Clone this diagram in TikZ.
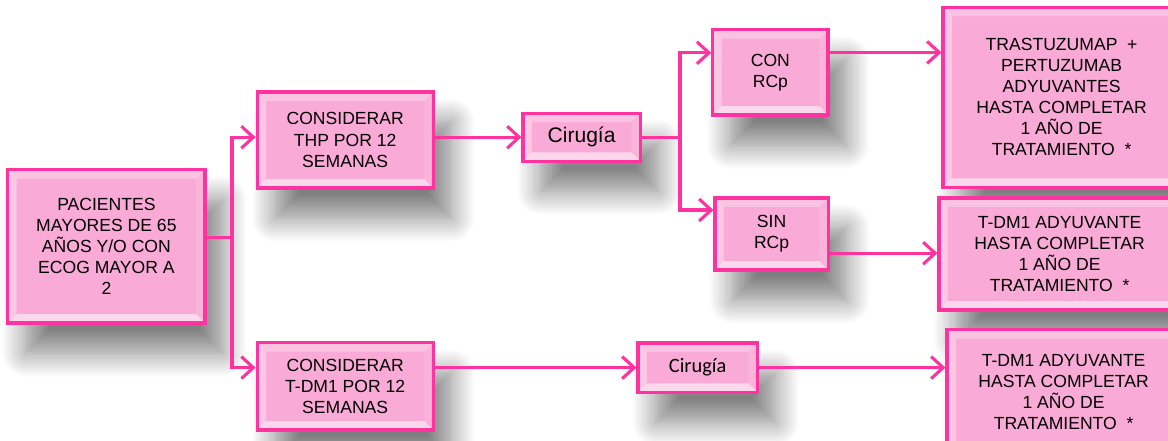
\documentclass[tikz,border=0pt]{standalone}
\usepackage{fontspec}
\setmainfont{Liberation Sans}
\newfontfamily\carlito{Carlito}
\usetikzlibrary{arrows.meta,shadows.blur}

\definecolor{rosa}{RGB}{255,51,160}
\definecolor{rosaclaro}{RGB}{250,170,214}

% bisel de las cajas
\newcommand{\bisel}{%
  \coordinate (nw) at (path picture bounding box.north west);
  \coordinate (ne) at (path picture bounding box.north east);
  \coordinate (sw) at (path picture bounding box.south west);
  \coordinate (se) at (path picture bounding box.south east);
  \coordinate (inw) at ([shift={(0.22cm,-0.22cm)}]nw);
  \coordinate (ine) at ([shift={(-0.22cm,-0.22cm)}]ne);
  \coordinate (isw) at ([shift={(0.22cm,0.22cm)}]sw);
  \coordinate (ise) at ([shift={(-0.22cm,0.22cm)}]se);
  \fill[white,opacity=.3] (nw) -- (ne) -- (ine) -- (inw) -- cycle;
  \fill[white,opacity=.35] (nw) -- (inw) -- (isw) -- (sw) -- cycle;
  \fill[white,opacity=.55] (sw) -- (isw) -- (ise) -- (se) -- cycle;
  \fill[white,opacity=.12] (ne) -- (ine) -- (ise) -- (se) -- cycle;
}

\tikzset{
  caja/.style={draw=rosa, line width=2.2pt, fill=rosaclaro, align=center,
    inner sep=0pt, font=\fontsize{12.5}{15}\selectfont,
    blur shadow={shadow xshift=0.45cm, shadow yshift=-0.75cm,
      shadow blur radius=0.6cm, shadow blur steps=15, shadow opacity=50},
    path picture={\bisel}},
  linea/.style={draw=rosa, line width=2.2pt},
  flecha/.style={linea, -{Straight Barb[length=0.3cm,width=0.55cm]}},
}

\begin{document}
\begin{tikzpicture}
\useasboundingbox (0,0) rectangle (29.2,-11.025);
\clip (0,0) rectangle (29.2,-11.025);

% cajas
\node[caja, minimum width=4.93cm, minimum height=3.83cm] (pac) at (2.66,-6.16)
  {PACIENTES\\MAYORES DE 65\\AÑOS Y/O CON\\ECOG MAYOR A\\2};
\node[caja, minimum width=4.4cm, minimum height=2.4cm] (thp) at (8.63,-3.5)
  {CONSIDERAR\\THP POR 12\\SEMANAS};
\node[caja, minimum width=2.93cm, minimum height=1.2cm, font=\fontsize{15}{18}\selectfont] (cir1) at (14.54,-3.43) {Cirugía};
\node[caja, minimum width=2.88cm, minimum height=2.13cm] (con) at (19.26,-1.81) {CON\\RCp};
\node[caja, minimum width=2.83cm, minimum height=1.8cm] (sin) at (19.29,-5.85) {SIN\\RCp};
\node[caja, minimum width=5.93cm, minimum height=4.5cm] (tras) at (26.54,-2.43)
  {TRASTUZUMAP\ \ +\\PERTUZUMAB\\ADYUVANTES\\HASTA COMPLETAR\\1 AÑO DE\\TRATAMIENTO\ \ *};
\node[caja, minimum width=6.03cm, minimum height=2.8cm] (tdma) at (26.49,-6.35)
  {T-DM1 ADYUVANTE\\HASTA COMPLETAR\\1 AÑO DE\\TRATAMIENTO\ \ *};
\node[caja, minimum width=4.4cm, minimum height=2.18cm] (tdm) at (8.63,-9.66)
  {CONSIDERAR\\T-DM1 POR 12\\SEMANAS};
\node[caja, minimum width=2.98cm, minimum height=1.23cm, font=\carlito\fontsize{14.5}{17}\selectfont] (cir2) at (17.44,-9.19) {Cirugía};
\node[caja, minimum width=5.83cm, minimum height=3.13cm] (tdmb) at (26.59,-9.81)
  {T-DM1 ADYUVANTE\\HASTA COMPLETAR\\1 AÑO DE\\TRATAMIENTO\ \ *};

% conectores
\coordinate (ramal) at (5.8,-5.93);
\coordinate (bif) at (17.0,-3.43);
\coordinate (c1) at ([yshift=0.5cm]con.east);
\coordinate (c2) at ([yshift=-0.48cm]sin.east);
\draw[linea] (pac.east |- ramal) -- (ramal);
\draw[flecha] (ramal) |- (thp.west |- cir1);
\draw[flecha] (ramal) |- (tdm.west |- cir2);
\draw[flecha] (thp.east |- cir1) -- (cir1.west);
\draw[flecha] (tdm.east |- cir2) -- (cir2.west);
\draw[linea] (cir1.east) -- (bif);
\draw[flecha] (bif) |- ([yshift=0.49cm]con.west);
\draw[flecha] (bif) |- ([yshift=0.6cm]sin.west);
\draw[flecha] (c1) -- (c1 -| tras.west);
\draw[flecha] (c2) -- (c2 -| tdma.west);
\draw[flecha] (cir2.east) -- (cir2.east -| tdmb.west);
\end{tikzpicture}
\end{document}
